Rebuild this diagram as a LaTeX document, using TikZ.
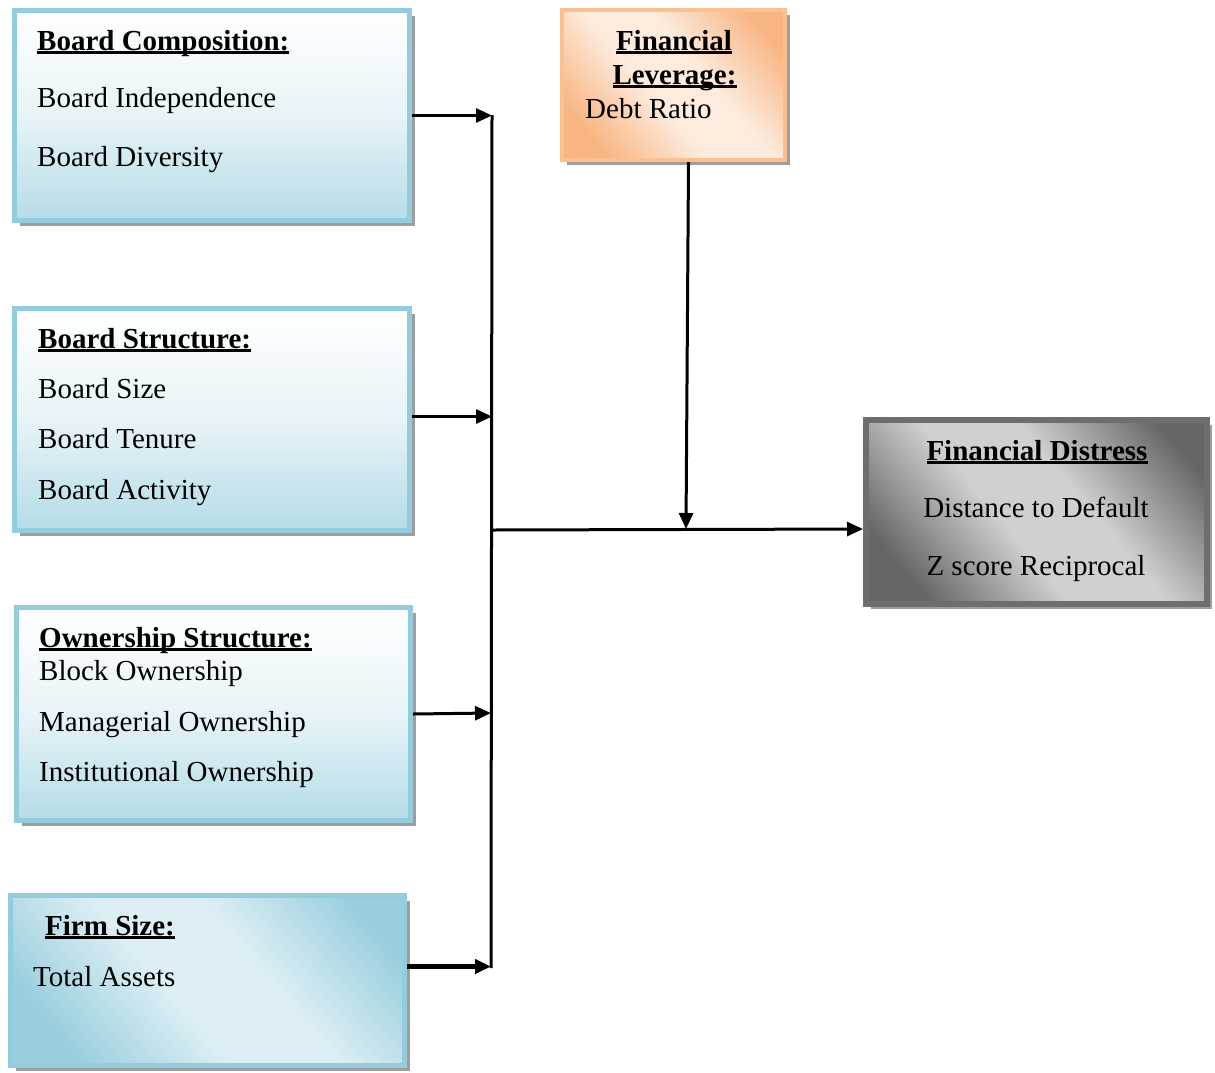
\documentclass[tikz,border=0pt]{standalone}
\usepackage{fontspec}
\setmainfont{Liberation Serif}
\usetikzlibrary{arrows.meta,shadows}

\definecolor{bluebd}{HTML}{93CDDD}
\definecolor{bluefill}{HTML}{B4DCE7}
\definecolor{bluelight}{HTML}{DDEFF4}
\definecolor{bluemid}{HTML}{98CEDE}
\definecolor{orangebd}{HTML}{FAC090}
\definecolor{orangedk}{HTML}{F8B482}
\definecolor{orangelt}{HTML}{FDEBDD}
\definecolor{graybd}{HTML}{6E6E6E}
\definecolor{graydk}{HTML}{666666}
\definecolor{graylt}{HTML}{D0D0D0}

% diagonal band fills: darker towards two opposite corners
\pgfdeclareverticalshading{blueband}{100bp}{color(0bp)=(bluemid); color(24bp)=(bluemid); color(44bp)=(bluelight); color(58bp)=(bluelight); color(78bp)=(bluemid); color(100bp)=(bluemid)}
\pgfdeclareverticalshading{orangeband}{100bp}{color(0bp)=(orangedk); color(24bp)=(orangedk); color(44bp)=(orangelt); color(58bp)=(orangelt); color(78bp)=(orangedk); color(100bp)=(orangedk)}
\pgfdeclareverticalshading{grayband}{100bp}{color(0bp)=(graydk); color(24bp)=(graydk); color(44bp)=(graylt); color(58bp)=(graylt); color(78bp)=(graydk); color(100bp)=(graydk)}

% bold heading with a heavy underline
\newcommand\hdr[1]{\textbf{\setbox0\hbox{\textbf{#1}}\rlap{\rule[-4.2pt]{\wd0}{2.8pt}}\box0}}

\tikzset{
  boxshadow/.style={drop shadow={shadow xshift=5pt,shadow yshift=-5pt,fill=black!38,opacity=1}},
  varbox/.style={draw=bluebd, line width=5pt, inner sep=0pt, boxshadow,
    top color=white, bottom color=bluefill, middle color=bluelight!70!white},
  sizebox/.style={draw=bluebd, line width=5pt, inner sep=0pt, boxshadow,
    shading=blueband, shading angle=-50},
  levbox/.style={draw=orangebd, line width=4pt, inner sep=0pt, boxshadow,
    shading=orangeband, shading angle=-50},
  distbox/.style={draw=graybd, line width=6pt, inner sep=0pt, boxshadow,
    shading=grayband, shading angle=-50},
  lbl/.style={anchor=base west, inner sep=0pt},
  clbl/.style={anchor=base, inner sep=0pt},
  conn/.style={line width=3pt, -{Triangle[length=16pt,width=14pt]}},
  bus/.style={line width=3pt},
}

\begin{document}
\begin{tikzpicture}[x=1pt,y=-1pt,
  every node/.append style={font=\fontsize{29}{35}\selectfont}]
  \useasboundingbox (0,0) rectangle (1215,1072);

  % independent-variable boxes
  \node[varbox, minimum width=395pt, minimum height=210pt] (bc) at (212,115.5) {};
  \node[varbox, minimum width=395pt, minimum height=222pt] (bs) at (212,419.5) {};
  \node[varbox, minimum width=394pt, minimum height=213pt] (os) at (213.5,714) {};
  \node[sizebox, minimum width=394pt, minimum height=170pt] (fs) at (207.5,980.5) {};

  % moderator and dependent variable
  \node[levbox, minimum width=223pt, minimum height=150pt] (fl) at (673.5,85) {};
  \node[distbox, minimum width=341pt, minimum height=184pt] (fd) at (1036.5,512) {};

  % Board Composition
  \node[lbl] (bct) at (37,50) {\hdr{Board Composition:}};
  \node[lbl] (bc1) at (37,107) {Board Independence};
  \node[lbl] (bc2) at (37,166) {Board Diversity};

  % Board Structure
  \node[lbl] (bst) at (38,348) {\hdr{Board Structure:}};
  \node[lbl] (bs1) at (38,398) {Board Size};
  \node[lbl] (bs2) at (38,448) {Board Tenure};
  \node[lbl] (bs3) at (38,499) {Board Activity};

  % Ownership Structure
  \node[lbl] (ost) at (39,647) {\hdr{Ownership Structure:}};
  \node[lbl] (os1) at (39,680) {Block Ownership};
  \node[lbl] (os2) at (39,731) {Managerial Ownership};
  \node[lbl] (os3) at (39,781) {Institutional Ownership};

  % Firm Size
  \node[lbl] (fst) at (45,935) {\hdr{Firm Size:}};
  \node[lbl] (fs1) at (33,986) {Total Assets};

  % Financial Leverage
  \node[clbl] (flt1) at (674,50) {\hdr{Financial}};
  \node[clbl] (flt2) at (674.5,84) {\hdr{Leverage:}};
  \node[lbl] (fl1) at (585,118) {Debt Ratio};

  % Financial Distress
  \node[clbl] (fdt) at (1037,460) {\hdr{Financial Distress}};
  \node[clbl] (fd1) at (1036,517) {Distance to Default};
  \node[clbl] (fd2) at (1036,575) {Z score Reciprocal};

  % collecting line and its junctions
  \coordinate (bustop) at (492,115);
  \coordinate (busbot) at (491,968);
  \coordinate (busmid) at (491.5,530);
  \coordinate (join) at (686,529);

  \draw[bus] (bustop) -- (busbot);

  \draw[conn] (bc.east) -- (bc.east -| bustop);
  \draw[conn] ([yshift=3pt]bs.east) -- ([yshift=3pt]bs.east -| bustop);
  \draw[conn] (os.east) -- ([yshift=1pt]os.east -| busbot);
  \draw[conn, line width=5pt] ([yshift=14pt]fs.east) -- ([yshift=14pt]fs.east -| busbot);

  \draw[conn] (busmid) -- ([yshift=-17pt]fd.west);
  \draw[conn] ([xshift=15pt]fl.south) -- (join);
\end{tikzpicture}
\end{document}
